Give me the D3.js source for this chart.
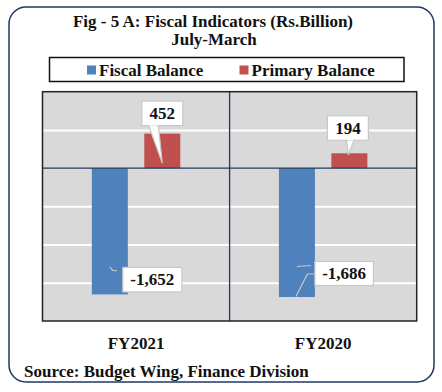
<!DOCTYPE html>
<html>
<head>
<meta charset="utf-8">
<script src="https://cdn.jsdelivr.net/npm/d3@7"></script>
<style>
  body { margin: 0; background: #fff; }
  text { font-family: "Liberation Serif", serif; font-weight: bold; fill: #111; }
</style>
</head>
<body>
<div id="chart"></div>
<script>
// data
const categories = ["FY2021", "FY2020"];
const seriesNames = ["Fiscal Balance", "Primary Balance"];
const fiscalBalance = [-1652, -1686];
const primaryBalance = [452, 194];
const yTicks = [-2000, -1500, -1000, -500, 0, 500, 1000];
const colors = ["#4f81bd", "#c0504d"];

const W = 442, H = 392;
const plot = {left: 42.5, right: 416.7, top: 91.7, bottom: 321};

const svg = d3.select("#chart").append("svg")
    .attr("width", W)
    .attr("height", H);

// outer frame
svg.append("rect")
    .attr("x", 9).attr("y", 7)
    .attr("width", 425).attr("height", 375)
    .attr("rx", 17)
    .attr("fill", "#fff")
    .attr("stroke", "#1f3864")
    .attr("stroke-width", 1.5);

// title
svg.append("text")
    .attr("x", 213).attr("y", 27)
    .attr("text-anchor", "middle")
    .style("font-size", "17px")
    .text("Fig - 5 A: Fiscal Indicators (Rs.Billion)");
svg.append("text")
    .attr("x", 214).attr("y", 45)
    .attr("text-anchor", "middle")
    .style("font-size", "17px")
    .text("July-March");

// legend
svg.append("rect")
    .attr("x", 49.5).attr("y", 57.5)
    .attr("width", 354.5).attr("height", 24)
    .attr("fill", "#fff")
    .attr("stroke", "#111")
    .attr("stroke-width", 1.5);

const legendX = [87, 239.5];
seriesNames.forEach((name, i) => {
    svg.append("rect")
        .attr("x", legendX[i]).attr("y", 65.5)
        .attr("width", 9).attr("height", 9)
        .attr("fill", colors[i]);
    svg.append("text")
        .attr("x", legendX[i] + 12).attr("y", 76)
        .style("font-size", "17px")
        .text(name);
});

// scales
const x0 = d3.scaleBand()
    .domain(categories)
    .range([plot.left, plot.right]);

const x1 = d3.scaleBand()
    .domain(seriesNames)
    .range([0, x0.bandwidth()])
    .paddingInner(0.314)
    .paddingOuter(0.94);

const y = d3.scaleLinear()
    .domain([-2000, 1000])
    .range([plot.bottom, plot.top]);

// plot background
svg.append("rect")
    .attr("x", plot.left).attr("y", plot.top)
    .attr("width", plot.right - plot.left)
    .attr("height", plot.bottom - plot.top)
    .attr("fill", "#d9d9d9");

// gridlines
const grid = svg.append("g")
    .attr("transform", "translate(" + plot.left + ",0)")
    .call(d3.axisLeft(y)
        .tickValues(yTicks.filter(t => t != 0 && t != -2000 && t != 1000))
        .tickSize(-(plot.right - plot.left))
        .tickFormat(""));
grid.select(".domain").remove();
grid.selectAll("line")
    .attr("stroke", "#fff")
    .attr("stroke-width", 2);

// bars
const rows = categories.map((c, i) => ({cat: c, values: [fiscalBalance[i], primaryBalance[i]]}));

const groups = svg.selectAll(".cat")
    .data(rows)
    .enter().append("g")
    .attr("class", "cat")
    .attr("transform", d => "translate(" + x0(d.cat) + ",0)");

groups.selectAll("rect")
    .data(d => d.values.map((v, j) => ({name: seriesNames[j], value: v, j: j})))
    .enter().append("rect")
    .attr("x", d => x1(d.name))
    .attr("width", x1.bandwidth())
    .attr("y", d => y(Math.max(0, d.value)))
    .attr("height", d => Math.abs(y(d.value) - y(0)))
    .attr("fill", d => colors[d.j]);

// zero line and category divider
svg.append("line")
    .attr("x1", plot.left).attr("x2", plot.right)
    .attr("y1", y(0)).attr("y2", y(0))
    .attr("stroke", "#1f3864").attr("stroke-width", 1.3);
svg.append("line")
    .attr("x1", x0(categories[1])).attr("x2", x0(categories[1]))
    .attr("y1", plot.top).attr("y2", plot.bottom)
    .attr("stroke", "#1f3864").attr("stroke-width", 1.3);

// plot border
svg.append("rect")
    .attr("x", plot.left).attr("y", plot.top)
    .attr("width", plot.right - plot.left)
    .attr("height", plot.bottom - plot.top)
    .attr("fill", "none")
    .attr("stroke", "#222")
    .attr("stroke-width", 1.5);

// callout labels
const fmt = v => d3.format(",")(v).replace("\u2212", "-");
function cx(cat, name) { return x0(cat) + x1(name) + x1.bandwidth() / 2; }

function box(x, yTop, w, h, label) {
    svg.append("rect")
        .attr("x", x).attr("y", yTop)
        .attr("width", w).attr("height", h)
        .attr("fill", "#fff")
        .attr("stroke", "#c8c8c8")
        .attr("stroke-width", 1.2);
    svg.append("text")
        .attr("x", x + w / 2).attr("y", yTop + h / 2 + 5.5)
        .attr("text-anchor", "middle")
        .style("font-size", "17px")
        .text(label);
}

// positive bars: box above with pointer
rows.forEach((r, i) => {
    const v = primaryBalance[i];
    const c = cx(r.cat, seriesNames[1]);
    const bw = 41, bh = 24.5;
    const offs = i == 0 ? {dx: 0, gap: 8, tipY: y(0) - 5, b1: -14, b2: -4, tipX: 0}
                        : {dx: -1.5, gap: 13, tipY: y(v) + 1.5, b1: -3, b2: 5, tipX: -1};
    const bx = c + offs.dx - bw / 2;
    const bb = y(v) - offs.gap;
    svg.append("path")
        .attr("d", "M" + (c + offs.b1) + "," + (bb - 1) + "L" + (c + offs.tipX) + "," + offs.tipY +
              "L" + (c + offs.b2) + "," + (bb - 1))
        .attr("fill", "#fff")
        .attr("stroke", "#c8c8c8")
        .attr("stroke-width", 1.2);
    box(bx, bb - bh, bw, bh, fmt(v));
    // cover border segment under pointer base
    svg.append("line")
        .attr("x1", c + offs.b1 + 1).attr("x2", c + offs.b2 - 1)
        .attr("y1", bb - 0.6).attr("y2", bb - 0.6)
        .attr("stroke", "#fff").attr("stroke-width", 1.4);
});

// negative bars: box to the right with leader line
rows.forEach((r, i) => {
    const v = fiscalBalance[i];
    const c = cx(r.cat, seriesNames[0]);
    const bottom = y(v);
    if (i == 0) {
        svg.append("path")
            .attr("d", "M" + (c) + "," + (bottom - 27.5) + "L" + (c + 3) + "," + (bottom - 24) +
                  "L" + (c + 7) + "," + (bottom - 23.8))
            .attr("fill", "none").attr("stroke", "#c8c8c8").attr("stroke-width", 1.2);
        box(c + 13, bottom - 27, 59, 24.5, fmt(v));
    } else {
        svg.append("path")
            .attr("d", "M" + (c - 1) + "," + (bottom - 0.5) + "L" + (c + 10.5) + "," + (bottom - 23) +
                  "L" + (c + 18) + "," + (bottom - 23))
            .attr("fill", "none").attr("stroke", "#c8c8c8").attr("stroke-width", 1.2);
        svg.append("path")
            .attr("d", "M" + (c) + "," + (bottom - 30.5) + "L" + (c + 14) + "," + (bottom - 31.5))
            .attr("fill", "none").attr("stroke", "#c8c8c8").attr("stroke-width", 1.2);
        box(c + 18, bottom - 35.5, 58.5, 24, fmt(v));
    }
});

// category labels
const xAxis = svg.append("g")
    .attr("transform", "translate(0," + plot.bottom + ")")
    .call(d3.axisBottom(x0).tickSize(0).tickPadding(16));
xAxis.select(".domain").remove();
xAxis.selectAll("text")
    .style("font-family", "Liberation Serif, serif")
    .style("font-weight", "bold")
    .style("font-size", "17px")
    .attr("fill", "#111");

// source
svg.append("text")
    .attr("x", 24).attr("y", 377)
    .style("font-size", "17px")
    .text("Source: Budget Wing, Finance Division");
</script>
</body>
</html>
